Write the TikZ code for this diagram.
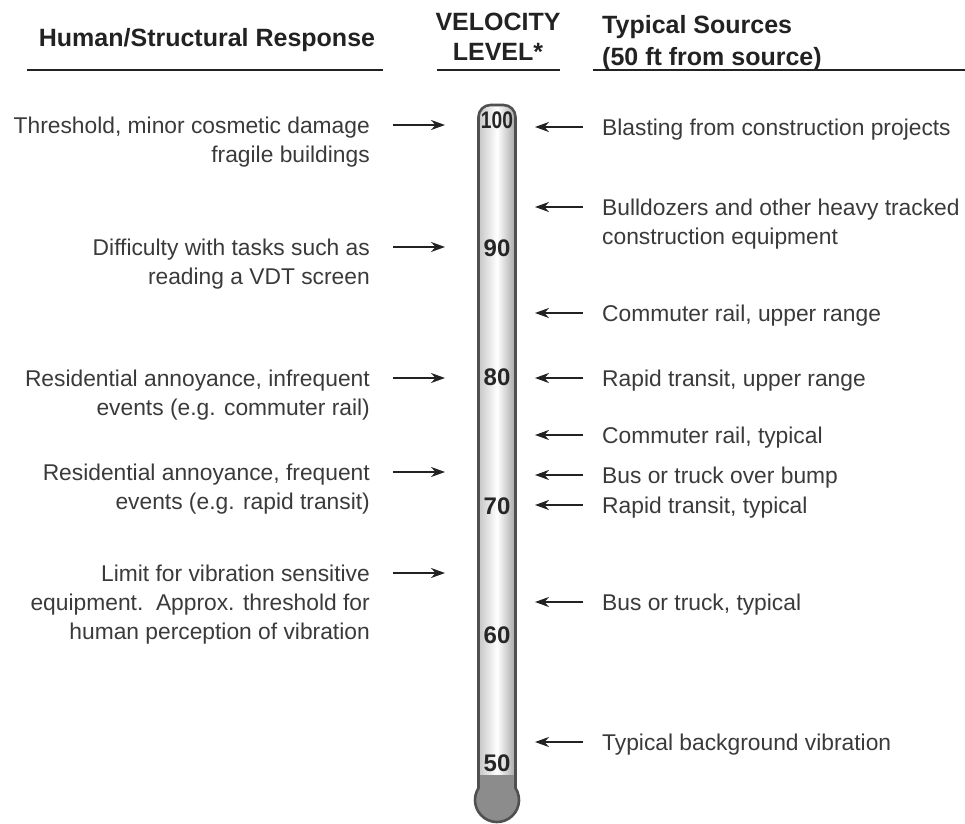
\documentclass[tikz,border=0pt]{standalone}
\usepackage{fontspec}
\setmainfont{Liberation Sans}
\usetikzlibrary{arrows.meta,positioning}
\definecolor{vibtext}{HTML}{3A3A3A}
\definecolor{vibhead}{HTML}{222222}
\definecolor{vibwall}{HTML}{505050}
\definecolor{vibfluid}{HTML}{8C8C8C}
\tikzset{
  every picture/.append style={line cap=round,line join=round},
  vib head/.style={font=\bfseries\fontsize{25}{30}\selectfont,text=vibhead,inner sep=0pt},
  vib rule/.style={line width=2.8pt,vibhead,line cap=butt},
  vib note/.style={font=\fontsize{22.8}{29}\selectfont,text=vibtext,inner sep=0pt},
  vib level/.style={font=\bfseries\fontsize{24}{24}\selectfont,text=black!85,inner sep=0pt},
  vib arrow/.style={line width=2.1pt,vibhead,line cap=butt,-{Stealth[length=14pt,width=10pt]}},
  vib tube/.style={draw=vibwall,line width=2.6pt}
}
\begin{document}
\begin{tikzpicture}[x=1pt,y=1pt]
  \useasboundingbox (0,0) rectangle (965,823);

  % column headings
  \node[vib head, anchor=base] (hresp) at (207,776) {Human/Structural Response};
  \node[vib head, anchor=north, align=center] (hvel) at (498,810) {VELOCITY\\LEVEL*};
  \node[vib head, anchor=north west, align=left,
        font=\bfseries\fontsize{25}{32}\selectfont] (hsrc) at (602,808) {Typical Sources\\(50 ft from source)};
  \draw[vib rule] (27,753) -- (383,753);
  \draw[vib rule] (437,753) -- (560,753);
  \draw[vib rule] (593,753) -- (965,753);

  % thermometer
  \shade[left color=gray!45, right color=gray!70, middle color=white]
    (478.5,48) -- (478.5,706) arc[start angle=180, end angle=90, radius=12]
    -- (503.5,718) arc[start angle=90, end angle=0, radius=12] -- (515.5,48) -- cycle;
  \fill[vibfluid] (515.5,48) -- (515.5,34.9) arc[start angle=32.8, end angle=-212.8, radius=22]
    -- (478.5,48) -- cycle;
  \draw[vib tube] (515.5,34.9) arc[start angle=32.8, end angle=-212.8, radius=22]
    -- (478.5,706) arc[start angle=180, end angle=90, radius=12]
    -- (503.5,718) arc[start angle=90, end angle=0, radius=12] -- cycle;

  % scale
  \node[vib level] (v100) at (497,703) {\scalebox{0.8}[1]{100}};
  \node[vib level] (v90) at (497,575) {90};
  \node[vib level] (v80) at (497,446) {80};
  \node[vib level] (v70) at (497,317) {70};
  \node[vib level] (v60) at (497,188) {60};
  \node[vib level] (v50) at (497,60) {50};

  % responses (left)
  \coordinate (ra1) at (393,698); \coordinate (rb1) at (445,698);
  \coordinate (ra2) at (393,576); \coordinate (rb2) at (445,576);
  \coordinate (ra3) at (393,445); \coordinate (rb3) at (445,445);
  \coordinate (ra4) at (393,351); \coordinate (rb4) at (445,351);
  \coordinate (ra5) at (393,250); \coordinate (rb5) at (445,250);
  \node[vib note, anchor=north east, align=right] (rdamage) at (370,706.5)
    {Threshold, minor cosmetic damage\\fragile buildings};
  \node[vib note, anchor=north east, align=right] (rtasks) at (370,584.5)
    {Difficulty with tasks such as\\reading a VDT screen};
  \node[vib note, anchor=north east, align=right] (rinfreq) at (370,453.5)
    {Residential annoyance, infrequent\\events (e.g. commuter rail)};
  \node[vib note, anchor=north east, align=right] (rfreq) at (370,359.5)
    {Residential annoyance, frequent\\events (e.g. rapid transit)};
  \node[vib note, anchor=north east, align=right] (rlimit) at (370,258.5)
    {Limit for vibration sensitive\\equipment.\ \ Approx. threshold for\\human perception of vibration};
  \draw[vib arrow] (ra1) -- (rb1);
  \draw[vib arrow] (ra2) -- (rb2);
  \draw[vib arrow] (ra3) -- (rb3);
  \draw[vib arrow] (ra4) -- (rb4);
  \draw[vib arrow] (ra5) -- (rb5);

  % sources (right)
  \coordinate (sa1) at (583,696); \coordinate (sb1) at (535,696);
  \coordinate (sa2) at (583,616); \coordinate (sb2) at (535,616);
  \coordinate (sa3) at (583,510); \coordinate (sb3) at (535,510);
  \coordinate (sa4) at (583,445); \coordinate (sb4) at (535,445);
  \coordinate (sa5) at (583,388); \coordinate (sb5) at (535,388);
  \coordinate (sa6) at (583,348); \coordinate (sb6) at (535,348);
  \coordinate (sa7) at (583,318); \coordinate (sb7) at (535,318);
  \coordinate (sa8) at (583,221); \coordinate (sb8) at (535,221);
  \coordinate (sa9) at (583,81); \coordinate (sb9) at (535,81);
  \node[vib note, anchor=north west] (sblast) at (602,704.5) {Blasting from construction projects};
  \node[vib note, anchor=north west, align=left] (sdozer) at (602,624.5)
    {Bulldozers and other heavy tracked\\construction equipment};
  \node[vib note, anchor=north west] (scrup) at (602,518.5) {Commuter rail, upper range};
  \node[vib note, anchor=north west] (srtup) at (602,453.5) {Rapid transit, upper range};
  \node[vib note, anchor=north west] (scrtyp) at (602,396.5) {Commuter rail, typical};
  \node[vib note, anchor=north west] (sbump) at (602,356.5) {Bus or truck over bump};
  \node[vib note, anchor=north west] (srttyp) at (602,326.5) {Rapid transit, typical};
  \node[vib note, anchor=north west] (sbus) at (602,229.5) {Bus or truck, typical};
  \node[vib note, anchor=north west] (sback) at (602,89.5) {Typical background vibration};
  \draw[vib arrow] (sa1) -- (sb1);
  \draw[vib arrow] (sa2) -- (sb2);
  \draw[vib arrow] (sa3) -- (sb3);
  \draw[vib arrow] (sa4) -- (sb4);
  \draw[vib arrow] (sa5) -- (sb5);
  \draw[vib arrow] (sa6) -- (sb6);
  \draw[vib arrow] (sa7) -- (sb7);
  \draw[vib arrow] (sa8) -- (sb8);
  \draw[vib arrow] (sa9) -- (sb9);
\end{tikzpicture}
\end{document}
